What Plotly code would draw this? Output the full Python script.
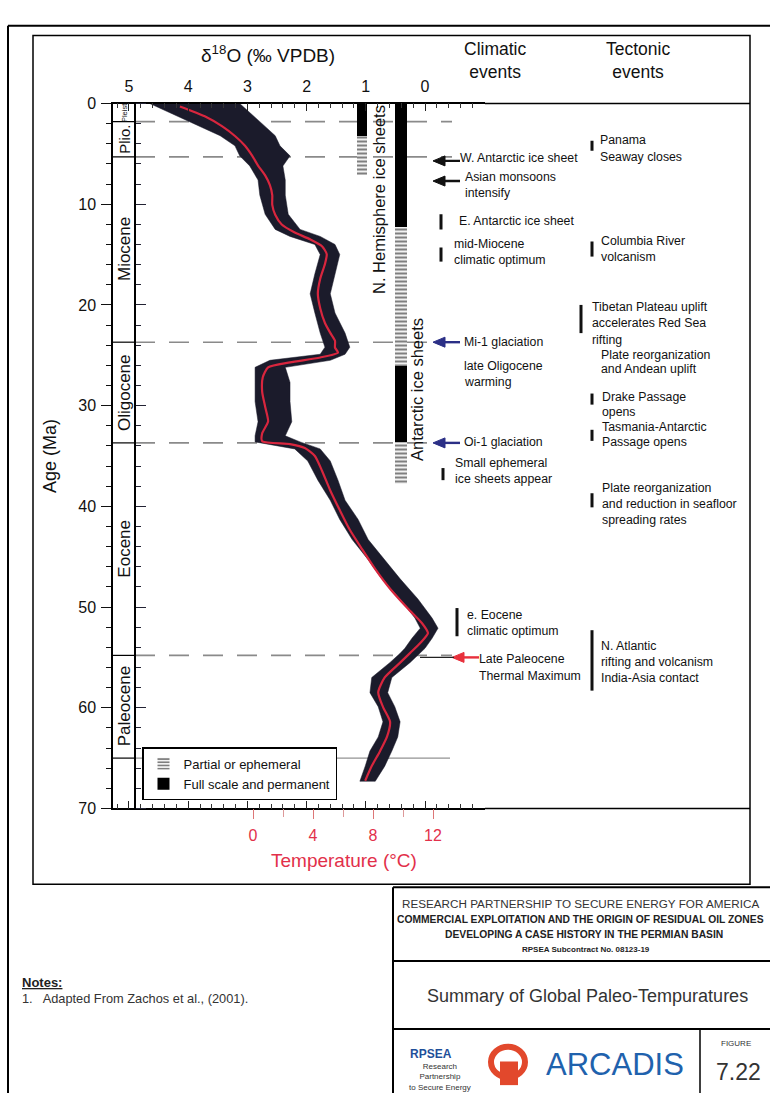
import plotly.graph_objects as go

W, H = 770, 1102
def PX(x): return x / W
def PY(y): return 1 - y / H

# ---------------- data ----------------
# envelope of the benthic d18O scatter cloud (age in Ma, heavy/light edges in per mil)
env_age = [0.0, 1.8, 3.2, 4.2, 5.2, 6.2, 7.6, 9.1, 11.0, 12.5, 13.2, 14.0, 15.0, 16.9, 18.9,
           20.8, 22.8, 24.2, 24.9, 25.5, 26.2, 27.7, 29.6, 31.6, 33.0, 33.6, 34.3, 35.5, 37.4,
           39.4, 41.3, 43.3, 45.3, 47.2, 49.2, 51.1, 52.1, 53.1, 54.1, 54.6, 55.5, 57.0, 58.5,
           59.9, 61.4, 62.9, 64.3, 65.8, 67.3]
env_heavy = [4.65, 3.97, 3.46, 3.21, 3.13, 2.96, 2.82, 2.79, 2.70, 2.53, 2.28, 1.86, 1.77, 1.86, 1.94,
             1.86, 1.77, 1.69, 1.77, 2.62, 2.87, 2.87, 2.87, 2.82, 2.87, 2.87, 2.20, 1.98, 1.81,
             1.60, 1.44, 1.23, 0.96, 0.73, 0.42, 0.17, 0.08, 0.22, 0.34, 0.42, 0.59, 0.90, 0.93,
             0.79, 0.71, 0.79, 0.93, 1.01, 1.10]
env_light = [3.13, 2.79, 2.53, 2.45, 2.28, 2.40, 2.36, 2.36, 2.31, 2.11, 1.77, 1.52, 1.44, 1.52, 1.60,
             1.52, 1.35, 1.27, 1.35, 1.60, 2.36, 2.28, 2.28, 2.25, 2.36, 2.11, 1.77, 1.60, 1.47,
             1.35, 1.13, 0.96, 0.68, 0.42, 0.12, -0.12, -0.22, -0.12, 0.00, 0.08, 0.25, 0.56, 0.63,
             0.51, 0.42, 0.46, 0.56, 0.68, 0.84]

# smoothed (red) curve
curve_age = [0.29, 1.27, 2.25, 3.23, 4.20, 5.18, 6.16, 7.14, 8.11, 9.09, 10.07, 11.05, 12.02, 12.81,
             13.49, 14.17, 14.96, 15.93, 17.40, 18.87, 20.33, 21.80, 22.78, 23.56, 24.24, 24.73,
             25.22, 25.71, 26.20, 27.18, 28.64, 30.11, 31.57, 32.75, 33.53, 33.82, 34.21, 35.00,
             36.46, 38.42, 40.37, 42.33, 44.28, 46.24, 48.19, 50.15, 51.61, 52.59, 53.57, 54.55,
             55.52, 56.99, 58.46, 59.92, 61.39, 62.85, 64.32, 65.79, 67.25]
curve_d18o = [4.14, 3.72, 3.43, 3.21, 3.04, 2.92, 2.82, 2.70, 2.62, 2.58, 2.58, 2.53, 2.42, 2.20,
              1.94, 1.74, 1.66, 1.69, 1.77, 1.81, 1.77, 1.69, 1.60, 1.52, 1.52, 1.47,
              1.77, 2.28, 2.65, 2.74, 2.75, 2.70, 2.65, 2.75, 2.75, 2.28, 2.03, 1.86,
              1.74, 1.60, 1.44, 1.27, 1.06, 0.84, 0.59, 0.29, 0.05, -0.05, 0.08, 0.25,
              0.42, 0.68, 0.79, 0.71, 0.59, 0.64, 0.76, 0.90, 1.01]

# geologic epochs (Ma)
epoch_names = ["Pleist.", "Plio.", "Miocene", "Oligocene", "Eocene", "Paleocene"]
epoch_top = [0.0, 1.8, 5.3, 23.7, 33.7, 54.8]
epoch_base = [1.8, 5.3, 23.7, 33.7, 54.8, 65.0]
dashed_boundaries = [1.8, 5.3, 23.7, 33.7, 54.8]

# ice sheets (Ma)
ice_sheets = ["N. Hemisphere", "Antarctic"]
full_sheet = ["N. Hemisphere", "Antarctic", "Antarctic"]
full_start = [0.0, 0.0, 26.0]
full_end = [3.2, 12.2, 33.6]
partial_sheet = ["N. Hemisphere", "Antarctic", "Antarctic"]
partial_start = [3.2, 12.2, 33.6]
partial_end = [7.0, 26.0, 37.7]

# event age ranges (Ma)
climatic_bar_start = [11.0, 14.3, 36.2, 50.1]
climatic_bar_end = [12.5, 15.7, 37.4, 52.9]
tectonic_bar_start = [3.7, 13.7, 20.0, 28.8, 32.4, 38.7, 52.3]
tectonic_bar_end = [4.7, 15.2, 22.8, 29.9, 33.5, 40.1, 58.3]
arrow_ages = [5.7, 7.7, 23.7, 33.7, 55.0]
arrow_colors = ["#111111", "#111111", "#2b2f86", "#2b2f86", "#e8303c"]

d18o_ticks = [5, 4, 3, 2, 1, 0]
temp_ticks = [0, 4, 8, 12]
temp_minor = [2, 6, 10]
age_ticks = [0, 10, 20, 30, 40, 50, 60, 70]

climatic_text = [
    ("W. Antarctic ice sheet", 458, 152), ("Asian monsoons", 463, 172), ("intensify", 463, 188),
    ("E. Antarctic ice sheet", 457, 216), ("mid-Miocene", 452, 240), ("climatic optimum", 452, 256),
    ("Mi-1 glaciation", 462, 339), ("late Oligocene", 462, 364), ("warming", 462, 380),
    ("Oi-1 glaciation", 462, 441), ("Small ephemeral", 453, 462), ("ice sheets appear", 453, 478),
    ("e. Eocene", 465, 617), ("climatic optimum", 465, 633),
    ("Late Paleocene", 477, 661), ("Thermal Maximum", 477, 678),
]
tectonic_text = [
    ("Panama", 598, 134), ("Seaway closes", 598, 151),
    ("Columbia River", 599, 237), ("volcanism", 599, 253),
    ("Tibetan Plateau uplift", 590, 304), ("accelerates Red Sea", 590, 320), ("rifting", 590, 337),
    ("Plate reorganization", 599, 352), ("and Andean uplift", 599, 367),
    ("Drake Passage", 600, 395), ("opens", 600, 410),
    ("Tasmania-Antarctic", 600, 426), ("Passage opens", 600, 441),
    ("Plate reorganization", 600, 488), ("and reduction in seafloor", 600, 504), ("spreading rates", 600, 520),
    ("N. Atlantic", 599, 648), ("rifting and volcanism", 599, 664), ("India-Asia contact", 599, 680),
]

FONT = "Liberation Sans, Arial, sans-serif"
RED = "#e2304a"
DARK = "#1b1b2b"

fig = go.Figure()

# scatter cloud envelope
fig.add_trace(go.Scatter(
    x=env_heavy + env_light[::-1], y=env_age + env_age[::-1],
    mode="lines", fill="toself", fillcolor=DARK, line=dict(color=DARK, width=0.5),
    showlegend=False, hoverinfo="skip", xaxis="x", yaxis="y"))
# smoothed curve
fig.add_trace(go.Scatter(
    x=curve_d18o, y=curve_age, mode="lines",
    line=dict(color="#d8263e", width=2.2, shape="spline", smoothing=0.6),
    showlegend=False, xaxis="x", yaxis="y"))

# ice sheet bars
fig.add_trace(go.Bar(
    name="Partial or ephemeral", x=partial_sheet,
    y=[e - s for s, e in zip(partial_start, partial_end)], base=partial_start,
    width=[0.26, 0.31, 0.31], xaxis="x3", yaxis="y",
    marker=dict(color="white", line=dict(width=0),
                pattern=dict(shape="-", fgcolor="black", bgcolor="white", size=4, solidity=0.55))))
fig.add_trace(go.Bar(
    name="Full scale and permanent", x=full_sheet,
    y=[e - s for s, e in zip(full_start, full_end)], base=full_start,
    width=[0.26, 0.31, 0.31], xaxis="x3", yaxis="y",
    marker=dict(color="black", line=dict(width=0))))

shapes = []
ann = []

def line_px(x0, y0, x1, y1, w=1.5, c="black", dash=None):
    shapes.append(dict(type="line", xref="paper", yref="paper", x0=PX(x0), y0=PY(y0),
                       x1=PX(x1), y1=PY(y1), line=dict(color=c, width=w, dash=dash)))

def text_px(t, x, y, size, xanchor="left", color="#111", angle=0, family=FONT):
    ann.append(dict(text=t, x=PX(x), y=PY(y), xref="paper", yref="paper", xanchor=xanchor,
                    yanchor="middle", showarrow=False, textangle=angle,
                    font=dict(size=size, color=color, family=family)))

# page & chart frames
line_px(8, 18, 770, 18, 2)
line_px(8, 18, 8, 1102, 2)
shapes.append(dict(type="rect", xref="paper", yref="paper", x0=PX(33), y0=PY(28), x1=PX(750),
                   y1=PY(890), line=dict(color="black", width=1.5)))
# axis line extensions to the right frame
line_px(485, 97, 750, 97, 1.5)
line_px(485, 813, 750, 813, 1.5)

# epoch column boundaries
for b in epoch_base:
    shapes.append(dict(type="line", xref="paper", yref="y", x0=PX(113), x1=PX(135), y0=b, y1=b,
                       line=dict(color="black", width=1.2)))
shapes.append(dict(type="line", xref="paper", yref="y", x0=PX(135), x1=PX(450), y0=epoch_base[-1],
                   y1=epoch_base[-1], line=dict(color="#777", width=1), layer="below"))
for b in dashed_boundaries:
    shapes.append(dict(type="line", xref="paper", yref="y", x0=PX(135), x1=PX(452), y0=b, y1=b,
                       line=dict(color="#8a8a8a", width=1.6, dash="20px,14px"), layer="below"))
epoch_font = {"Pleist.": 7.5, "Plio.": 15}
for n, t, b in zip(epoch_names, epoch_top, epoch_base):
    ann.append(dict(text=n, x=PX(124.5), y=(t + b) / 2, xref="paper", yref="y", showarrow=False,
                    textangle=-90, xanchor="center", yanchor="middle",
                    font=dict(size=epoch_font.get(n, 17), family=FONT, color="#111")))

# event bars
for s, e in zip(climatic_bar_start, climatic_bar_end):
    xx = 441 if e < 20 else (443 if e < 40 else 457)
    shapes.append(dict(type="line", xref="paper", yref="y", x0=PX(xx), x1=PX(xx), y0=s, y1=e,
                       line=dict(color="#111", width=3)))
for i, (s, e) in enumerate(zip(tectonic_bar_start, tectonic_bar_end)):
    xx = 581 if i == 2 else 592
    shapes.append(dict(type="line", xref="paper", yref="y", x0=PX(xx), x1=PX(xx), y0=s, y1=e,
                       line=dict(color="#111", width=3)))

# arrows (shaft + triangular head)
for a, c in zip(arrow_ages, arrow_colors):
    head = 452 if c == "#e8303c" else 433
    shapes.append(dict(type="line", xref="paper", yref="y", x0=PX(head + 9), x1=PX(head + 27),
                       y0=a, y1=a, line=dict(color=c, width=2.4)))
    shapes.append(dict(type="path", xref="paper", yref="y", xsizemode="pixel", ysizemode="pixel",
                       xanchor=PX(head), yanchor=a, path="M 0 0 L 12 5 L 12 -5 Z",
                       fillcolor=c, line=dict(color=c, width=1)))
shapes.append(dict(type="line", xref="paper", yref="y", x0=PX(420), x1=PX(454), y0=arrow_ages[-1],
                   y1=arrow_ages[-1], line=dict(color="#222", width=1.2)))

for t, x, y in climatic_text:
    text_px(t, x, y, 12.3)
for t, x, y in tectonic_text:
    text_px(t, x, y, 12.3)

# headers
text_px("δ<sup>18</sup>O (‰ VPDB)", 268, 47, 19, "center")
text_px("Climatic<br>events", 495, 53, 17.5, "center")
text_px("Tectonic<br>events", 638, 53, 17.5, "center")
text_px("Age (Ma)", 50, 455, 18, "center", angle=-90)
text_px("Temperature (°C)", 344, 866, 19, "center", color=RED)
text_px("N. Hemisphere ice sheets", 379, 195, 16.5, "center", angle=-90)
text_px("Antarctic ice sheets", 417, 388, 16.5, "center", angle=-90)

# title block
line_px(393, 893, 393, 1102, 2)
line_px(393, 893, 772, 893, 2)
line_px(393, 968, 772, 968, 2)
line_px(393, 1037, 772, 1037, 2)
line_px(700, 1037, 700, 1102, 1.5)
text_px("RESEARCH PARTNERSHIP TO SECURE ENERGY FOR AMERICA", 400, 910, 11.7, "left", "#333")
text_px("<b>COMMERCIAL EXPLOITATION AND THE ORIGIN OF RESIDUAL OIL ZONES</b>", 395, 926, 10.3, "left", "#222")
text_px("<b>DEVELOPING A CASE HISTORY IN THE PERMIAN BASIN</b>", 584, 941, 10.3, "center", "#222")
text_px("<b>RPSEA Subcontract No. 08123-19</b>", 586, 956, 8, "center", "#222")
text_px("Summary of Global Paleo-Tempuratures", 587, 1003, 18, "center", "#333")
text_px("<b>RPSEA</b>", 431, 1062, 12, "center", "#1f4f9a")
text_px("Research<br>Partnership<br>to Secure Energy", 440, 1086, 8, "center", "#333")
text_px("ARCADIS", 615, 1073, 31, "center", "#1f62ad")
shapes.append(dict(type="circle", xref="paper", yref="paper", x0=PX(491), y0=PY(1055), x1=PX(525),
                   y1=PY(1086), line=dict(color="#e2482c", width=6)))
shapes.append(dict(type="rect", xref="paper", yref="paper", x0=PX(500), y0=PY(1070), x1=PX(518),
                   y1=PY(1094), fillcolor="#e2482c", line=dict(width=0)))
text_px("FIGURE", 736, 1052, 8, "center", "#333")
text_px("7.22", 738, 1081, 23, "center", "#333")
text_px("<b><u>Notes:</u></b>", 20, 990, 13, "left", "#222")
text_px("1.   Adapted From Zachos et al., (2001).", 20, 1006, 12.8, "left", "#333")

fig.update_layout(
    width=W, height=H, margin=dict(l=0, r=0, t=0, b=0),
    paper_bgcolor="white", plot_bgcolor="rgba(0,0,0,0)",
    font=dict(family=FONT, size=14, color="#111"),
    barmode="overlay", bargap=0,
    shapes=shapes, annotations=ann,
    showlegend=True,
    legend=dict(x=PX(142), y=PY(751), xanchor="left", yanchor="top", bgcolor="white",
                bordercolor="black", borderwidth=1.5, font=dict(size=13, family=FONT),
                tracegroupgap=0, itemwidth=30, traceorder="normal"),
    xaxis=dict(domain=[PX(113), PX(485)], range=[5.270, -1.0135], side="top", anchor="y",
               tickmode="array", tickvals=d18o_ticks, ticks="inside", ticklen=8, tickwidth=1.2,
               tickcolor="#222", showline=True, linewidth=1.5, linecolor="black", mirror="ticks",
               showgrid=False, zeroline=False, tickfont=dict(size=16), ticklabelstandoff=3,
               minor=dict(dtick=0.2, ticks="inside", ticklen=5, tickcolor="#333", showgrid=False)),
    xaxis2=dict(overlaying="x", anchor="free", position=PY(813), side="bottom",
                range=[-9.333, 15.467], tickmode="array", tickvals=temp_ticks, ticks="outside",
                ticklen=10, tickcolor="#d77", tickwidth=1, showline=False, showgrid=False,
                zeroline=False, tickfont=dict(size=16, color=RED), ticklabelstandoff=2,
                minor=dict(tickmode="array", tickvals=temp_minor, ticks="outside", ticklen=8,
                           tickcolor="#d99", showgrid=False)),
    xaxis3=dict(overlaying="x", anchor="y", type="category", categoryorder="array",
                categoryarray=ice_sheets, range=[-6.385, 3.154], visible=False),
    yaxis=dict(domain=[PY(813), PY(97)], range=[70, 0], anchor="x", tickmode="array",
               tickvals=age_ticks, ticks="outside", ticklen=10, tickwidth=1.2, tickcolor="#111",
               showline=True, linewidth=1.5, linecolor="black", showgrid=False, zeroline=False,
               tickfont=dict(size=16), ticklabelstandoff=2,
               minor=dict(dtick=2, ticks="outside", ticklen=5, tickcolor="#111", showgrid=False)),
    yaxis2=dict(overlaying="y", anchor="free", position=PX(135), side="right", range=[70, 0],
                tickmode="array", tickvals=age_ticks, ticks="outside", ticklen=10, tickwidth=1.2,
                tickcolor="#223", showticklabels=False, showline=True, linewidth=1.5,
                linecolor="black", showgrid=False, zeroline=False,
                minor=dict(dtick=2, ticks="outside", ticklen=5, tickcolor="#223", showgrid=False)),
)
# dummy trace to activate x2 / y2 axes
fig.add_trace(go.Scatter(x=[None], y=[None], xaxis="x2", yaxis="y2", showlegend=False))

fig.write_html("out.html", config={"displayModeBar": False},
               post_script="document.body.style.margin='0px';document.body.style.padding='0px';"
                           "document.documentElement.style.overflow='hidden';")
